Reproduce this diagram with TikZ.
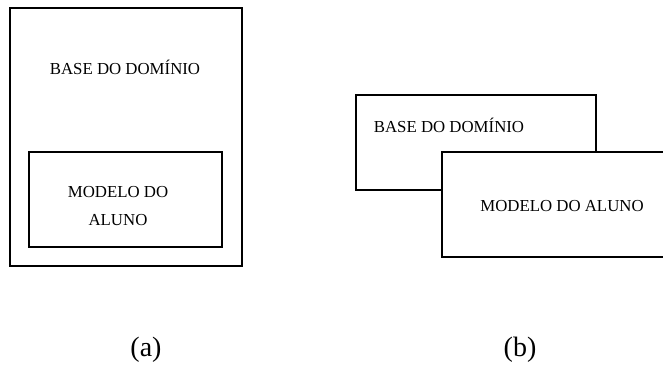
\documentclass[tikz,border=0pt]{standalone}
\usepackage{fontspec}
\setmainfont{Liberation Serif}
\usepackage{tikz}

\begin{document}
\begin{tikzpicture}[x=1pt,y=-1pt,
  box/.style={draw,line width=1.2pt,fill=white,inner sep=0pt},
  txt/.style={font=\fontsize{16.8}{28}\selectfont,align=center},
  label/.style={font=\fontsize{28}{30}\selectfont}]
\useasboundingbox (0,0) rectangle (663,364);
% (a): student model inside the domain base
\node[box,minimum width=232pt,minimum height=258pt] (baseA) at (126,137) {};
\node[txt] (baseAtxt) at (125,67) {BASE DO DOMÍNIO};
\node[box,minimum width=193pt,minimum height=95pt] (alunoA) at (125.5,199.5) {};
\node[txt] (alunoAtxt) at (118,206) {MODELO DO\\ALUNO};
% (b): the two overlapping
\node[box,minimum width=240pt,minimum height=95pt] (baseB) at (476,142.5) {};
\node[txt] (baseBtxt) at (449,125) {BASE DO DOMÍNIO};
\node[box,minimum width=226pt,minimum height=105pt] (alunoB) at (555,204.5) {};
\node[txt] (alunoBtxt) at (562,206) {MODELO DO ALUNO};
% captions
\node[label] (labA) at (146,350) {(a)};
\node[label] (labB) at (520,350) {(b)};
\end{tikzpicture}
\end{document}
